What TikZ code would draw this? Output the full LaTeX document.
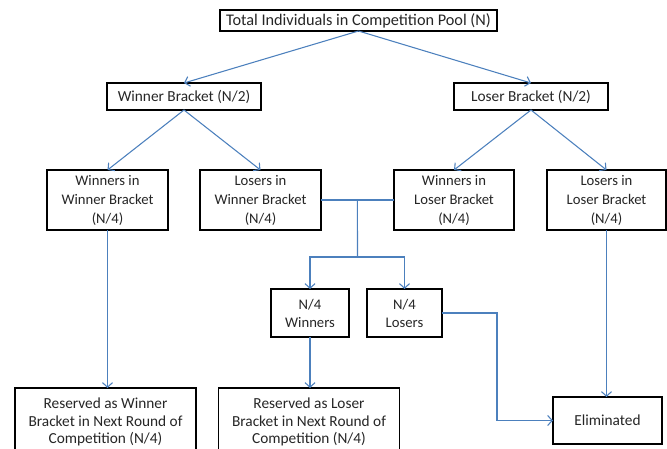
\documentclass[tikz,border=0pt]{standalone}
\usepackage{fontspec}
\setmainfont{Carlito}
\usetikzlibrary{arrows.meta,calc}
\definecolor{linkblue}{RGB}{76,128,189}
\definecolor{inkgray}{RGB}{38,38,38}
\begin{document}
\begin{tikzpicture}[x=0.75pt,y=-0.75pt,
  box/.style={draw=black,line width=1.4pt,fill=white,align=center,text=inkgray,
    inner sep=0pt,outer sep=0pt,font=\fontsize{11pt}{13.5pt}\selectfont},
  bigtext/.style={font=\fontsize{12.2pt}{14pt}\selectfont},
  midtext/.style={font=\fontsize{11.5pt}{13.2pt}\selectfont},
  tallrows/.style={font=\fontsize{11pt}{14.25pt}\selectfont},
  link/.style={draw=linkblue,line width=0.8pt},
  arrow/.style={link,-{Straight Barb[length=3.5pt,width=7.5pt]}}]
\useasboundingbox (0,0) rectangle (667,449);

% boxes, positioned by centre
\node[box,bigtext,minimum width=207.75pt,minimum height=15.75pt] (pool) at (358.5,20.5)
  {Total Individuals in Competition Pool (N)};
\node[box,midtext,minimum width=115.5pt,minimum height=20.25pt] (wb) at (184,96.5)
  {Winner Bracket (N/2)};
\node[box,midtext,minimum width=115.5pt,minimum height=20.25pt] (lb) at (531,96.5)
  {Loser Bracket (N/2)};

\node[box,tallrows,minimum width=90.5pt,minimum height=45pt] (winw) at (107.5,200)
  {Winners in\\Winner Bracket\\(N/4)};
\node[box,tallrows,minimum width=90.5pt,minimum height=45pt] (losw) at (260.5,200)
  {Losers in\\Winner Bracket\\(N/4)};
\node[box,tallrows,minimum width=90pt,minimum height=45pt] (winl) at (454,200)
  {Winners in\\Loser Bracket\\(N/4)};
\node[box,tallrows,minimum width=89.5pt,minimum height=45pt] (losl) at (606.5,200)
  {Losers in\\Loser Bracket\\(N/4)};

\node[box,minimum width=58.5pt,minimum height=36pt] (nwin) at (310,313)
  {N/4\\Winners};
\node[box,minimum width=56.25pt,minimum height=36pt] (nlos) at (404.5,313)
  {N/4\\Losers};

\node[box,midtext,minimum width=135.75pt,minimum height=51pt] (resw) at (105.5,422)
  {Reserved as Winner\\Bracket in Next Round of\\Competition (N/4)};
\node[box,midtext,minimum width=135.75pt,minimum height=51pt] (resl) at (309,422)
  {Reserved as Loser\\Bracket in Next Round of\\Competition (N/4)};
\node[box,midtext,minimum width=81.75pt,minimum height=35.25pt] (elim) at (607.5,420.5)
  {Eliminated};

% splitting the pool
\draw[arrow] (pool.south) -- (wb.north);
\draw[arrow] (pool.south) -- (lb.north);
\draw[arrow] (wb.south) -- (winw.north);
\draw[arrow] (wb.south) -- (losw.north);
\draw[arrow] (lb.south) -- (winl.north);
\draw[arrow] (lb.south) -- (losl.north);

% the two middle groups meet and are split again
\coordinate (join) at ($(losw.east)!0.5!(winl.west)$);
\coordinate (split) at (357.5,257);
\draw[link] (losw.east) -- (winl.west);
\draw[link] (join) -- (split);
\draw[arrow] (split) -| (nwin.north);
\draw[arrow] (split) -| (nlos.north);

% outcomes
\draw[arrow] (winw.south) -- (winw.south |- resw.north);
\draw[arrow] (nwin.south) -- (nwin.south |- resl.north);
\draw[arrow] (losl.south) -- (losl.south |- elim.north);
\coordinate (bend) at (497,313);
\draw[arrow] (nlos.east) -- (bend) |- (elim.west);
\end{tikzpicture}
\end{document}
